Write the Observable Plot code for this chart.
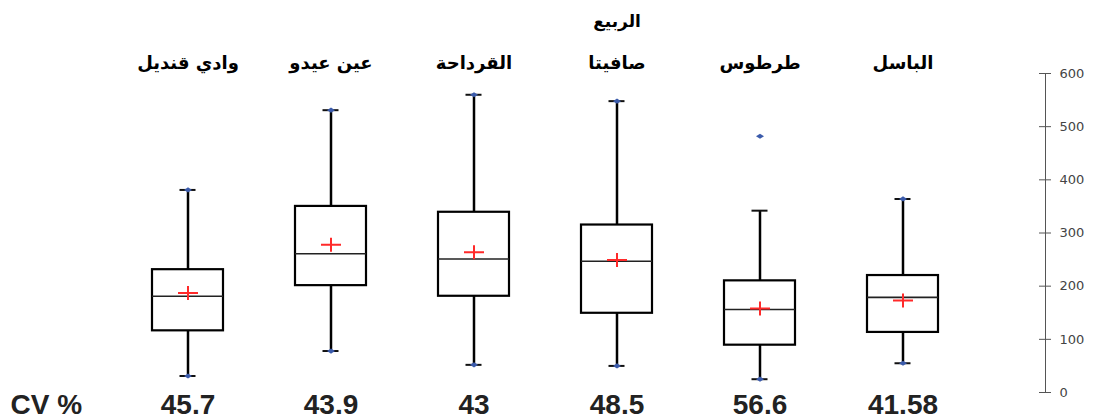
<!DOCTYPE html>
<html>
<head>
<meta charset="utf-8">
<script src="https://cdn.jsdelivr.net/npm/d3@7"></script>
<script src="https://cdn.jsdelivr.net/npm/@observablehq/plot@0.6"></script>
<style>
  html, body { margin: 0; padding: 0; background: #fff; }
</style>
</head>
<body>
<div id="chart"></div>
<script>
// ---- data ----
const categories = ["وادي قنديل", "عين عيدو", "القرداحة", "صافيتا", "طرطوس", "الباسل"];
const mins         = [31, 78, 52, 50, 25, 55];
const q1s          = [116, 201, 181, 149, 89, 113];
const medians      = [181, 261, 251, 247, 156, 179];
const q3s          = [231, 350, 339, 315, 210, 220];
const whiskerHighs = [381, 531, 560, 548, 342, 364];
const maxs         = [381, 531, 560, 548, 482, 364];
const means        = [187, 278, 264, 249, 158, 173];
const cvs          = ["45.7", "43.9", "43", "48.5", "56.6", "41.58"];
const yTicks       = [0, 100, 200, 300, 400, 500, 600];
const title        = "الربيع";
const titleOver    = "صافيتا";
const cvLabel      = "CV %";

const rows = categories.map((cat, i) => ({
  cat, min: mins[i], q1: q1s[i], med: medians[i], q3: q3s[i],
  hi: whiskerHighs[i], max: maxs[i], mean: means[i], cv: cvs[i]
}));
const extremes = rows.flatMap(d => [{cat: d.cat, v: d.min}, {cat: d.cat, v: d.max}]);

const crossSymbol = {
  draw(ctx) { ctx.moveTo(-10, 0); ctx.lineTo(10, 0); ctx.moveTo(0, -7); ctx.lineTo(0, 7); }
};
const diamondSymbol = {
  draw(ctx) { ctx.moveTo(-4, 0); ctx.lineTo(0, -2.6); ctx.lineTo(4, 0); ctx.lineTo(0, 2.6); ctx.closePath(); }
};

const arabicFont = "'DejaVu Sans', sans-serif";
const latinFont = "'Liberation Sans', Arial, sans-serif";

const chart = Plot.plot({
  width: 1118,
  height: 420,
  marginTop: 73,
  marginBottom: 28,
  marginLeft: 10,
  marginRight: 73,
  x: {domain: categories, range: [116, 974], padding: 0, axis: null},
  y: {domain: [0, 600], axis: null},
  style: {fontFamily: latinFont, background: "#fff"},
  marks: [
    // right axis
    Plot.frame({anchor: "right", stroke: "#555", strokeWidth: 1}),
    Plot.axisY({anchor: "right", ticks: yTicks, tickSize: 12, dx: -7, tickFormat: () => "", stroke: "#555", label: null}),
    Plot.axisY({anchor: "right", ticks: yTicks, tickSize: 0, tickPadding: 14, fontSize: 13,
                fill: "#444", fontFamily: arabicFont, label: null}),
    // category labels (top)
    Plot.axisX({anchor: "top", tickSize: 0, tickPadding: 5, fontSize: 18, fontWeight: "bold",
                fill: "#000", fontFamily: arabicFont, label: null}),
    // title
    Plot.text([{cat: titleOver, t: title}], {x: "cat", text: "t", frameAnchor: "top", dy: -52,
                lineAnchor: "middle", fontSize: 17, fontWeight: "bold", fill: "#000", fontFamily: arabicFont}),
    // whiskers
    Plot.ruleX(rows, {x: "cat", y1: "min", y2: "hi", stroke: "#000", strokeWidth: 2.5}),
    Plot.tickY(rows, {x: "cat", y: "hi", stroke: "#111", strokeWidth: 2, insetLeft: 63.5, insetRight: 63.5}),
    Plot.tickY(rows, {x: "cat", y: "min", stroke: "#111", strokeWidth: 2, insetLeft: 63.5, insetRight: 63.5}),
    // boxes
    Plot.rect(rows, {x: "cat", y1: "q1", y2: "q3", fill: "#fff", stroke: "#000", strokeWidth: 2.2,
                     insetLeft: 36, insetRight: 36}),
    Plot.tickY(rows, {x: "cat", y: "med", stroke: "#222", strokeWidth: 1.6, insetLeft: 36, insetRight: 36}),
    // means
    Plot.dot(rows, {x: "cat", y: "mean", symbol: crossSymbol, r: 5, stroke: "#ff2a2a", strokeWidth: 2, fill: "none"}),
    // min/max points
    Plot.dot(extremes, {x: "cat", y: "v", symbol: diamondSymbol, r: 4, fill: "#3b5bab", stroke: "none"}),
    // CV row
    Plot.text(rows, {x: "cat", text: "cv", frameAnchor: "bottom", dy: 21, lineAnchor: "bottom",
                     fontSize: 28, fontWeight: "bold", fill: "#222"}),
    Plot.text([cvLabel], {frameAnchor: "bottom-left", textAnchor: "start", dy: 21, lineAnchor: "bottom",
                          fontSize: 28, fontWeight: "bold", fill: "#222"})
  ]
});
document.getElementById("chart").appendChild(chart);
</script>
</body>
</html>
